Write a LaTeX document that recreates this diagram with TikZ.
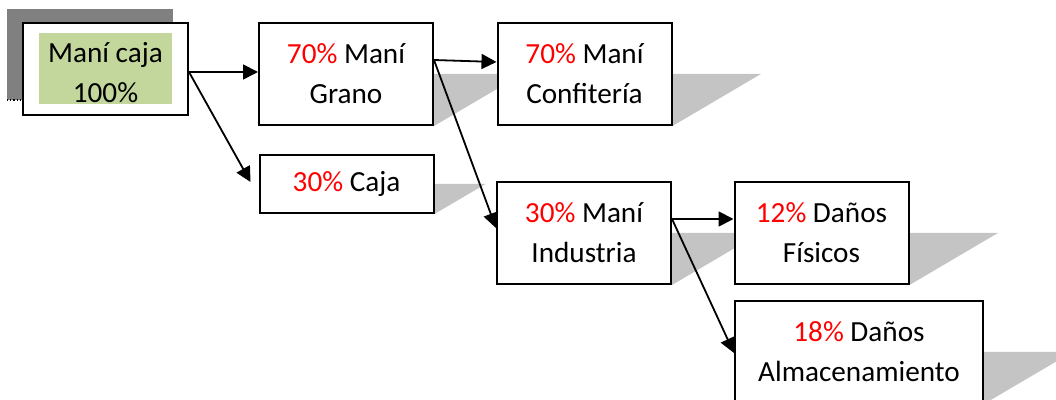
\documentclass[tikz,border=0pt]{standalone}
\usepackage{fontspec}
\setmainfont{Carlito}
\usetikzlibrary{arrows.meta,backgrounds,calc}
\definecolor{verdecaja}{HTML}{C3D69B}
\newcommand{\pct}[1]{\textcolor{red}{#1}}
\tikzset{
  texto/.style={align=center, inner sep=0pt, font=\fontsize{14.6}{20}\selectfont},
  cuadro/.style={texto, draw, line width=1pt, fill=white, minimum width=87pt, minimum height=51pt},
  flecha/.style={line width=0.9pt, -{Triangle[length=7.5pt,width=7.5pt]}},
  sombra/.style={fill=black!23},
}
\begin{document}
\begin{tikzpicture}[x=0.5pt,y=-0.5pt]
\useasboundingbox (0,0) rectangle (1056,400);
%Kasten links mit grauem Rechteck dahinter
\node[cuadro, minimum width=82.5pt, minimum height=46pt] (manicaja) at (105.5,69) {};
\node[fill=verdecaja, minimum width=66.5pt, minimum height=35.5pt, inner sep=0pt] (fondo) at (105.5,68.5) {};
\node[texto] (manicajatexto) at (105.5,72.5) {Maní caja\\100\%};
\node[cuadro] (grano) at (346,74) {\pct{70\%} Maní\\Grano};
\node[cuadro, minimum height=29pt] (caja) at (346.5,184) {\pct{30\%} Caja};
\node[cuadro] (confiteria) at (584.5,74) {\pct{70\%} Maní\\Confitería};
\node[cuadro] (industria) at (584,233) {\pct{30\%} Maní\\Industria};
\node[cuadro] (fisicos) at (821.5,233) {\pct{12\%} Daños\\Físicos};
\node[cuadro, minimum width=124pt] (almacen) at (859,352) {\pct{18\%} Daños\\Almacenamiento};
\begin{scope}[on background layer]
  \foreach \k in {grano,caja,confiteria,industria,fisicos,almacen}
    \fill[sombra] let \p1=(\k.east), \p2=(\k.south east) in (\p1) -- ({\x1+1.7*(\y1-\y2)},\y1) -- (\p2) -- cycle;
  \fill[gray] (7,9) rectangle (173,100);
  \draw[densely dotted, line width=0.6pt] (7,100) -- (23,100);
\end{scope}
\draw[flecha] ($(manicaja.east)+(0,3)$) -- ($(grano.west)+(0,-2)$);
\draw[flecha] ($(manicaja.east)+(0,3)$) -- ($(caja.west)+(-8,-2)$);
\draw[flecha] ($(grano.east)+(0,-14)$) -- ($(confiteria.west)+(0,-12)$);
\draw[flecha] ($(grano.east)+(0,-14)$) -- ($(industria.west)+(0,-5)$);
\draw[flecha] ($(industria.east)+(0,-14)$) -- ($(fisicos.west)+(0,-14)$);
\draw[flecha] ($(industria.east)+(0,-14)$) -- ($(almacen.west)+(0,1)$);
\end{tikzpicture}
\end{document}
